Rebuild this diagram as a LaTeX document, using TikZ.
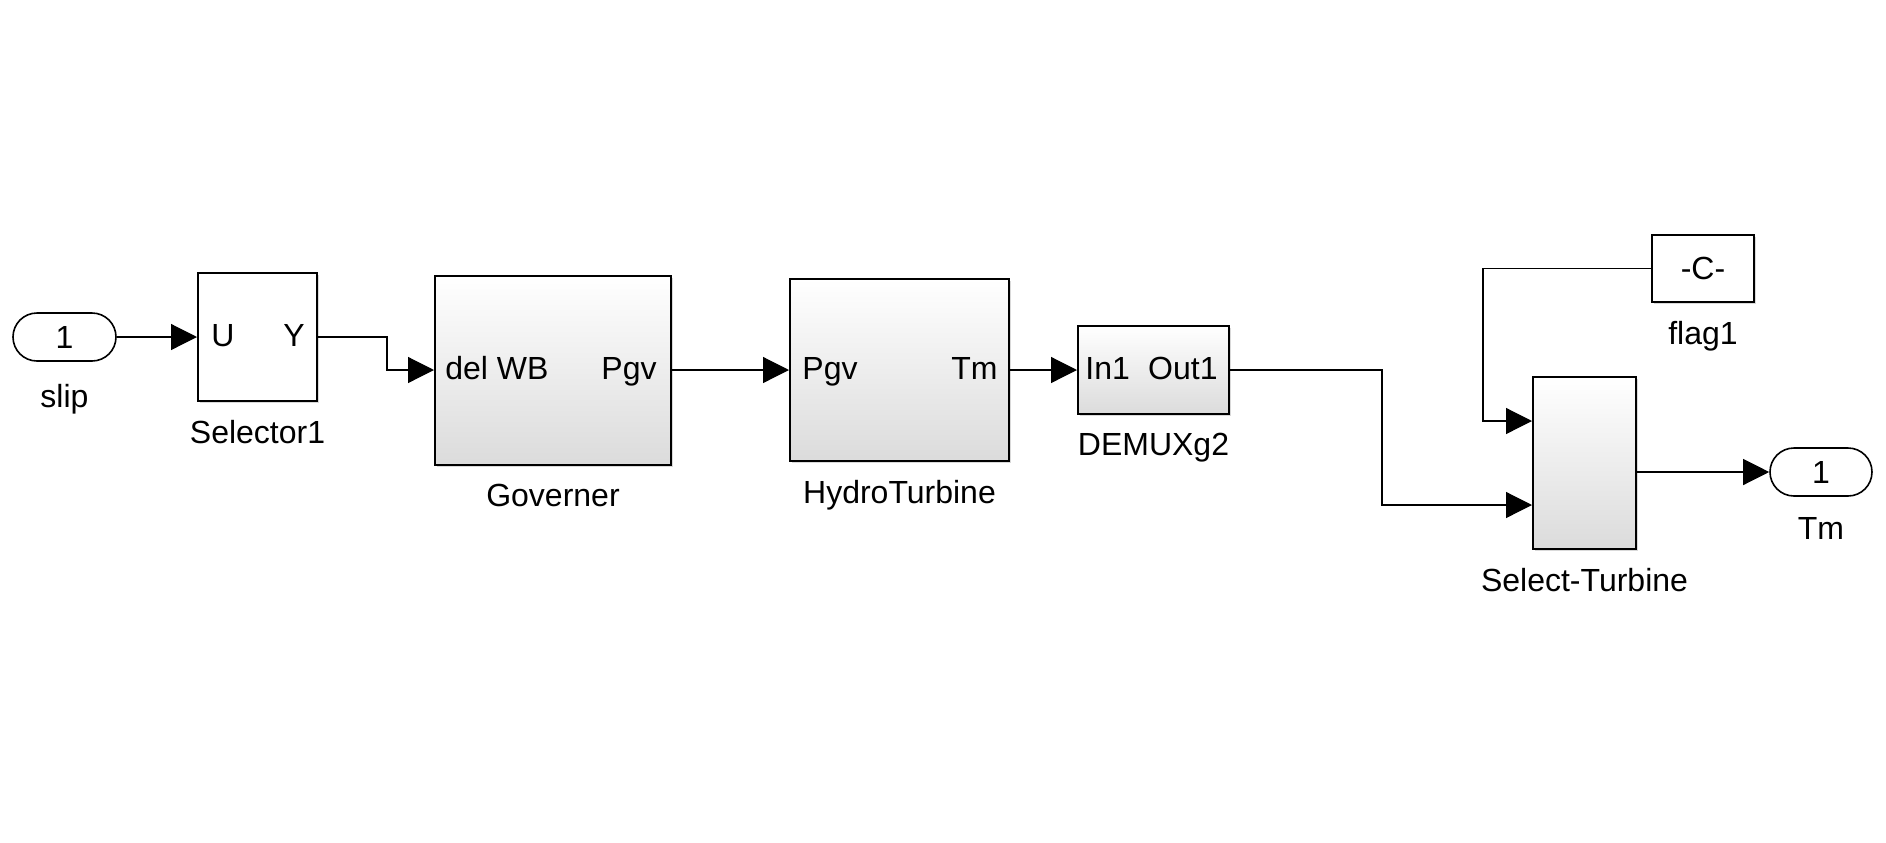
\documentclass[tikz,border=0pt]{standalone}
\usepackage{fontspec}
\setmainfont{Liberation Sans}
\usetikzlibrary{positioning,shapes.misc,arrows.meta,shadows}

\begin{document}
\begin{tikzpicture}[x=0.5pt,y=-0.5pt,font=\fontsize{16}{19}\selectfont]

%
% Styles
%
\tikzstyle{block} = [rectangle,draw=black,line width=1pt,fill=white,inner sep=0pt,
  drop shadow={shadow xshift=1pt,shadow yshift=-1pt,opacity=0.3}]
\tikzstyle{subsys} = [block,top color=white,bottom color=black!14]
\tikzstyle{ioport} = [rounded rectangle,draw=black,line width=0.8pt,fill=white,
  minimum width=51.5pt,minimum height=24pt,inner sep=0pt]
\tikzstyle{blocklbl} = [inner sep=0pt]
\tikzstyle{inlbl} = [inner sep=0pt,anchor=base west]
\tikzstyle{outlbl} = [inner sep=0pt,anchor=base east]
\tikzstyle{signal} = [line width=0.6pt,-{Triangle[length=13pt,width=13pt]}]

\useasboundingbox (0,0) rectangle (1886,842);

% blocks
\node[ioport] (slip) at (64.5,337) {1};
\node[block,minimum width=59.5pt,minimum height=64pt] (sel1) at (257.5,337) {};
\node[subsys,minimum width=118pt,minimum height=94.5pt] (gov) at (553,370) {};
\node[subsys,minimum width=109.5pt,minimum height=91pt] (hyd) at (899.5,370) {};
\node[subsys,minimum width=75.5pt,minimum height=44pt] (dmx) at (1153.5,370) {};
\node[block,minimum width=51pt,minimum height=33.5pt] (flag) at (1703,268.5) {-C-};
\node[subsys,minimum width=51.5pt,minimum height=86pt] (selt) at (1584.5,463) {};
\node[ioport,minimum width=51pt] (tm) at (1821,472) {1};

% port names
\node[inlbl]  (selu)   at ([xshift=7pt,yshift=-4.5pt]sel1.west)   {U};
\node[outlbl] (sely)   at ([xshift=-6.5pt,yshift=-4.5pt]sel1.east) {Y};
\node[inlbl]  (govin)  at ([xshift=5.5pt,yshift=-4.5pt]gov.west)   {del WB};
\node[outlbl] (govout) at ([xshift=-7.5pt,yshift=-4.5pt]gov.east)  {Pgv};
\node[inlbl]  (hydin)  at ([xshift=6.5pt,yshift=-4.5pt]hyd.west)   {Pgv};
\node[outlbl] (hydout) at ([xshift=-6pt,yshift=-4.5pt]hyd.east)    {Tm};
\node[inlbl]  (dmxin)  at ([xshift=4pt,yshift=-4.5pt]dmx.west)     {In1};
\node[outlbl] (dmxout) at ([xshift=-6pt,yshift=-4.5pt]dmx.east)    {Out1};

% block names
\node[blocklbl,below=11pt of slip] (sliplbl) {slip};
\node[blocklbl,below=9pt of sel1]  (sel1lbl) {Selector1};
\node[blocklbl,below=9pt of gov]   (govlbl)  {Governer};
\node[blocklbl,below=9pt of hyd]   (hydlbl)  {HydroTurbine};
\node[blocklbl,below=9pt of dmx]   (dmxlbl)  {DEMUXg2};
\node[blocklbl,below=9pt of flag]  (flaglbl) {flag1};
\node[blocklbl,below=9pt of selt]  (seltlbl) {Select-Turbine};
\node[blocklbl,below=10pt of tm]   (tmlbl)   {Tm};

% signals
\draw[signal] (slip.east) -- (sel1.west);
\draw[signal] (sel1.east) -- (387,337) |- (gov.west);
\draw[signal] (gov.east) -- (hyd.west);
\draw[signal] (hyd.east) -- (dmx.west);
\draw[signal] (dmx.east) -- (1382,370) |- ([yshift=-21pt]selt.west);
\draw[signal] (flag.west) -- (1483,268.5) |- ([yshift=21pt]selt.west);
\draw[signal] ([yshift=-4.5pt]selt.east) -- (tm.west);

\end{tikzpicture}
\end{document}
